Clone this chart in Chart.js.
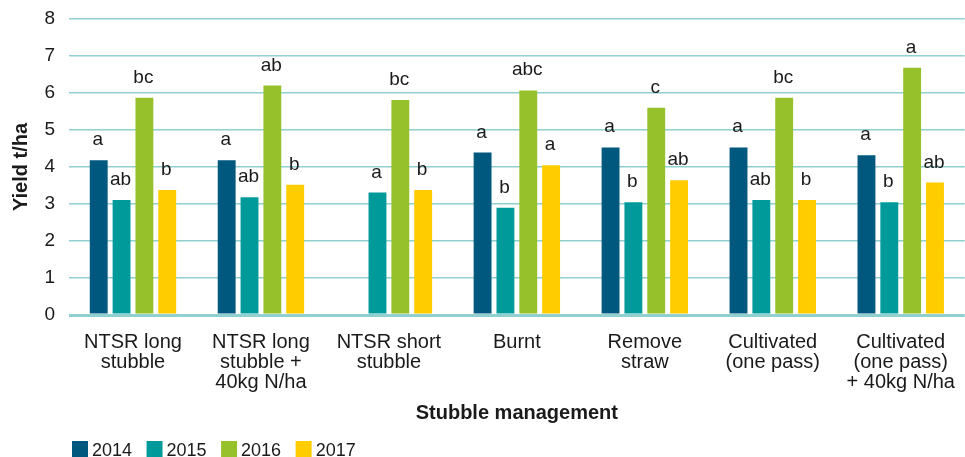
<!DOCTYPE html>
<html>
<head>
<meta charset="utf-8">
<script src="https://cdn.jsdelivr.net/npm/chart.js@4/dist/chart.umd.min.js"></script>
<style>
  html, body { margin: 0; padding: 0; background: #fff; overflow: hidden; }
  #wrap { width: 972px; height: 457px; }
</style>
</head>
<body>
<div id="wrap"><canvas id="yieldChart"></canvas></div>
<script>
// Stubble management trial - yield by year
const categories = [
  ['NTSR long', 'stubble'],
  ['NTSR long', 'stubble +', '40kg N/ha'],
  ['NTSR short', 'stubble'],
  'Burnt',
  ['Remove', 'straw'],
  ['Cultivated', '(one pass)'],
  ['Cultivated', '(one pass)', '+ 40kg N/ha']
];
const years = ['2014', '2015', '2016', '2017'];

const yield2014 = [4.18, 4.18, null, 4.39, 4.53, 4.53, 4.32];
const yield2015 = [3.11, 3.18, 3.31, 2.90, 3.05, 3.11, 3.05];
const yield2016 = [5.87, 6.20, 5.81, 6.07, 5.60, 5.87, 6.68];
const yield2017 = [3.38, 3.52, 3.38, 4.05, 3.64, 3.11, 3.58];

// significance letters above each bar
const letters2014 = ['a', 'a', '', 'a', 'a', 'a', 'a'];
const letters2015 = ['ab', 'ab', 'a', 'b', 'b', 'ab', 'b'];
const letters2016 = ['bc', 'ab', 'bc', 'abc', 'c', 'bc', 'a'];
const letters2017 = ['b', 'b', 'b', 'a', 'ab', 'b', 'ab'];

const yTicks = [0, 1, 2, 3, 4, 5, 6, 7, 8];

const colours = ['#00587f', '#009a9a', '#97c12b', '#ffcc00'];
const FONT = '"Liberation Sans", Arial, sans-serif';
const TEXT = '#1a1a1a';

const seriesValues = [yield2014, yield2015, yield2016, yield2017];
const seriesLetters = [letters2014, letters2015, letters2016, letters2017];

// letters over the bars
const letterPlugin = {
  id: 'letters',
  afterDatasetsDraw(chart) {
    const ctx = chart.ctx;
    ctx.save();
    ctx.font = '19px ' + FONT;
    ctx.fillStyle = TEXT;
    ctx.textAlign = 'center';
    ctx.textBaseline = 'alphabetic';
    chart.data.datasets.forEach((ds, i) => {
      const meta = chart.getDatasetMeta(i);
      meta.data.forEach((bar, j) => {
        const txt = seriesLetters[i][j];
        if (!txt || ds.data[j] == null) return;
        ctx.fillText(txt, bar.x - 1, bar.y - 15);
      });
    });
    ctx.restore();
  }
};

// legend in the bottom-left corner
const legendPlugin = {
  id: 'bottomLegend',
  afterDraw(chart) {
    const ctx = chart.ctx;
    ctx.save();
    ctx.font = '18px ' + FONT;
    ctx.textBaseline = 'alphabetic';
    ctx.textAlign = 'left';
    let x = 72;
    const top = 441;
    chart.data.datasets.forEach((ds) => {
      ctx.fillStyle = ds.backgroundColor;
      ctx.fillRect(x, top, 16, 16);
      ctx.fillStyle = TEXT;
      ctx.fillText(ds.label, x + 20, 456);
      x += 20 + ctx.measureText(ds.label).width + 14.5;
    });
    ctx.restore();
  }
};

const ctx = document.getElementById('yieldChart').getContext('2d');
new Chart(ctx, {
  type: 'bar',
  data: {
    labels: categories,
    datasets: years.map((yr, i) => ({
      label: yr,
      data: seriesValues[i],
      backgroundColor: colours[i],
      borderWidth: 0,
      categoryPercentage: 0.714,
      barPercentage: 0.783
    }))
  },
  options: {
    responsive: true,
    maintainAspectRatio: false,
    animation: false,
    layout: { padding: { top: 19, right: 1, bottom: 32, left: 0 } },
    plugins: {
      legend: { display: false },
      tooltip: { enabled: false }
    },
    scales: {
      x: {
        grid: { display: false, drawTicks: false },
        border: { display: false },
        ticks: {
          autoSkip: false,
          maxRotation: 0,
          padding: 17,
          color: TEXT,
          font: { family: FONT, size: 20, lineHeight: 1.0 }
        },
        title: {
          display: true,
          text: 'Stubble management',
          color: TEXT,
          font: { family: FONT, size: 20, weight: 'bold', lineHeight: 1.2 },
          padding: { top: -8, bottom: 0 }
        }
      },
      y: {
        min: 0,
        max: 8,
        afterFit(scale) { scale.width = 69; },
        afterBuildTicks(scale) { scale.ticks = yTicks.map(v => ({ value: v })); },
        grid: {
          drawTicks: false,
          color: '#90d0d0',
          lineWidth: (c) => (c.tick && c.tick.value === 0 ? 3 : 1.5)
        },
        border: { display: false },
        ticks: {
          padding: 14,
          color: TEXT,
          font: { family: FONT, size: 19, lineHeight: 0.5 }
        },
        title: {
          display: true,
          text: 'Yield t/ha',
          color: TEXT,
          font: { family: FONT, size: 20, weight: 'bold', lineHeight: 1.2 },
          padding: { top: 9, bottom: 0 }
        }
      }
    }
  },
  plugins: [letterPlugin, legendPlugin]
});
</script>
</body>
</html>
